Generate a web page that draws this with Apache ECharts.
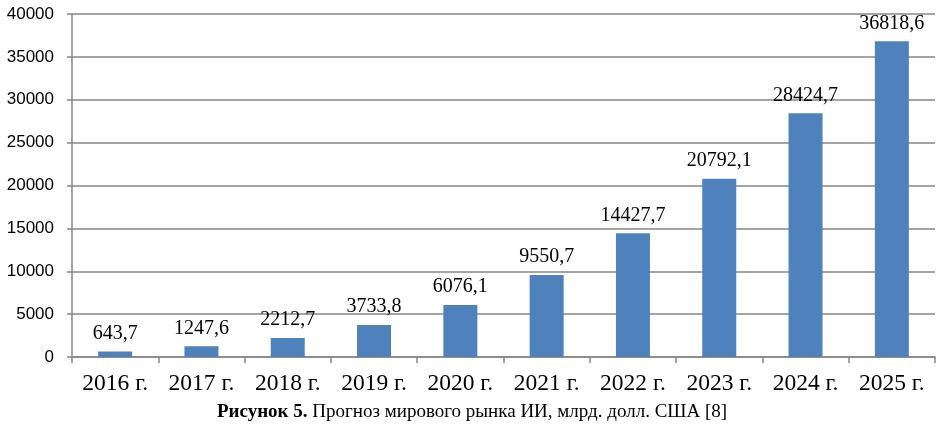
<!DOCTYPE html>
<html><head><meta charset="utf-8">
<script src="https://cdn.jsdelivr.net/npm/echarts@6/dist/echarts.min.js"></script>
<style>html,body{margin:0;padding:0;background:#fff}#c{width:944px;height:432px}</style>
</head><body><div id="c"></div>
<script>
const categories = ['2016 г.','2017 г.','2018 г.','2019 г.','2020 г.','2021 г.','2022 г.','2023 г.','2024 г.','2025 г.'];
const values = [643.7,1247.6,2212.7,3733.8,6076.1,9550.7,14427.7,20792.1,28424.7,36818.6];
const labels = ['643,7','1247,6','2212,7','3733,8','6076,1','9550,7','14427,7','20792,1','28424,7','36818,6'];
const caption = ['Рисунок 5.', ' Прогноз мирового рынка ИИ, млрд. долл. США [8]'];

const chart = echarts.init(document.getElementById('c'));
chart.setOption({
  animation: false,
  grid: {left: 72, right: 9, top: 14, bottom: 75, containLabel: false},
  graphic: [{
    type: 'text', left: 'center', top: 403,
    style: {
      text: '{b|' + caption[0] + '}{n|' + caption[1] + '}',
      rich: {
        b: {fontFamily: 'Liberation Serif', fontWeight: 'bold', fontSize: 19, fill: '#000'},
        n: {fontFamily: 'Liberation Serif', fontSize: 19, fill: '#000'}
      }
    }
  }],
  xAxis: {
    type: 'category', data: categories,
    axisLine: {lineStyle: {color: '#868686', width: 1.5}},
    axisTick: {show: true, length: 6, lineStyle: {color: '#868686', width: 1.5}},
    axisLabel: {fontFamily: 'Liberation Serif', fontSize: 23.5, color: '#000', margin: 15,
      interval: 0, hideOverlap: false}
  },
  yAxis: {
    type: 'value', min: 0, max: 40000, interval: 5000,
    axisLine: {show: true, lineStyle: {color: '#868686', width: 1.5}},
    axisTick: {show: true, length: 5, lineStyle: {color: '#868686', width: 1.5}},
    splitLine: {lineStyle: {color: '#868686', width: 1.5}},
    axisLabel: {fontFamily: 'Liberation Sans', fontSize: 17, color: '#000', margin: 18,
      formatter: v => String(v)}
  },
  series: [{
    type: 'bar', data: values, barWidth: 34,
    itemStyle: {color: '#4F81BD'},
    label: {
      show: true, position: 'top', distance: 8,
      fontFamily: 'Liberation Serif', fontSize: 20, color: '#000',
      formatter: p => labels[p.dataIndex]
    }
  }]
});
</script></body></html>
